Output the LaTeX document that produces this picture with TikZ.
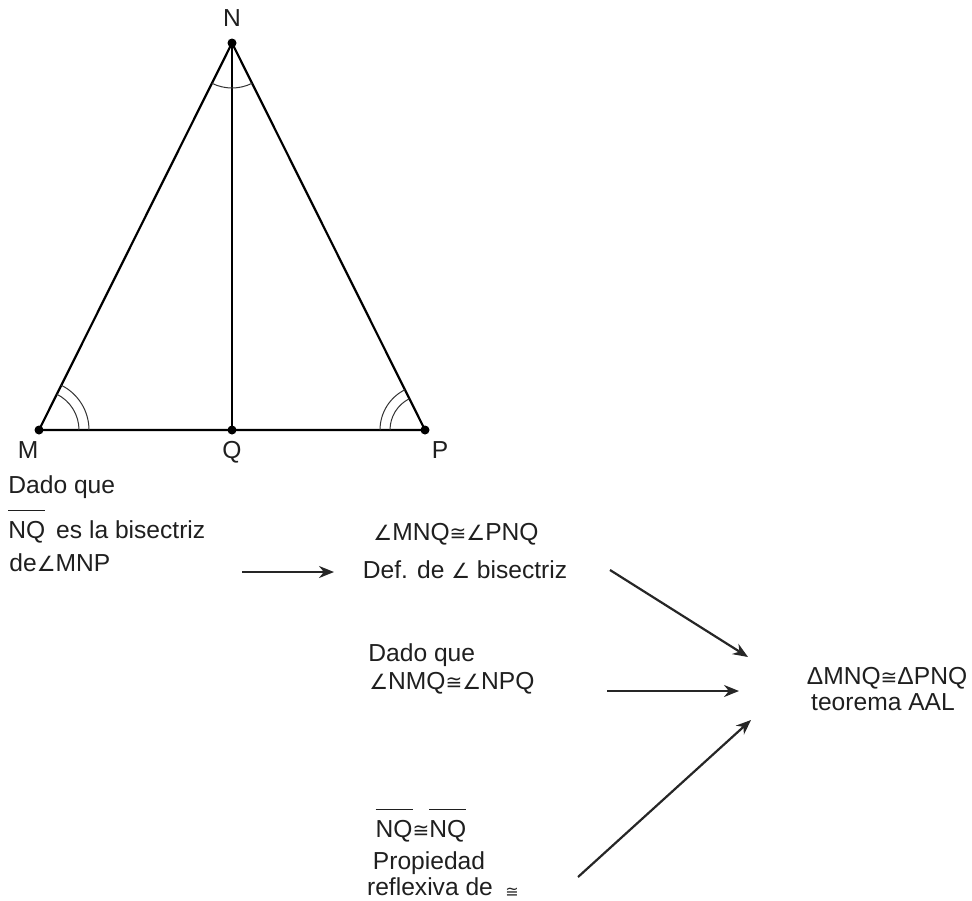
\documentclass[tikz,border=0pt]{standalone}
\usepackage{fontspec}
\setmainfont{Liberation Sans}
\newfontfamily\symfont{DejaVu Sans}
\usetikzlibrary{arrows.meta}

% angle and congruence signs
\newcommand{\ang}{{\symfont\fontsize{10.5}{12}\selectfont ∠}}
\newcommand{\congr}{{\symfont\fontsize{10}{12}\selectfont ≅}}
\newcommand{\seg}[1]{$\overline{\mbox{#1}\rule{0pt}{12.5pt}}$}

\tikzset{
  dot/.style={circle,fill=black,inner sep=0pt,minimum size=4.5pt},
  txt/.style={inner sep=0pt,text=black!88,font=\fontsize{12.3}{14}\selectfont},
  side/.style={line width=1.1pt},
  anglemark/.style={line width=0.5pt,black!80},
  implies/.style={line width=1.1pt,black!85,-{Stealth[length=7.5pt,width=6pt]}}
}

\begin{document}
\begin{tikzpicture}[x=0.5pt,y=0.5pt]
        \useasboundingbox (0,0) rectangle (972,-900);

        % triangle MNP with the bisector NQ
        \node[dot] (N) at (232,-43) {};
        \node[dot] (M) at (39,-430) {};
        \node[dot] (Q) at (232,-430) {};
        \node[dot] (P) at (425,-430) {};
        \draw[side] (M.center) -- (N.center) -- (P.center) -- cycle;
        \draw[side] (N.center) -- (Q.center);
        \node[txt] (lN) at (232,-18) {N};
        \node[txt] (lM) at (28,-450) {M};
        \node[txt] (lQ) at (232,-452) {Q};
        \node[txt] (lP) at (440,-450) {P};

        % angle marks
        \draw[anglemark] (N.center) ++(243.5:45) arc (243.5:296.5:45);
        \draw[anglemark] (M.center) ++(0:40) arc (0:63.5:40);
        \draw[anglemark] (M.center) ++(0:50) arc (0:63.5:50);
        \draw[anglemark] (P.center) ++(116.5:35) arc (116.5:180:35);
        \draw[anglemark] (P.center) ++(116.5:45) arc (116.5:180:45);

        % given statement
        \node[txt,anchor=west] (given1) at (8,-487) {Dado que};
        \node[txt,anchor=base west] (given2) at (8,-538) {\seg{NQ}\, es la bisectriz};
        \node[txt,anchor=west] (given3) at (9,-563) {de\ang MNP};

        % the three reasons
        \node[txt] (step1) at (456,-534) {\ang MNQ\congr\ang PNQ};
        \node[txt] (step1r) at (465,-570) {Def. de \ang\ bisectriz};
        \node[txt,anchor=west] (step2) at (368,-655) {Dado que};
        \node[txt,anchor=west] (step2r) at (369,-683) {\ang NMQ\congr\ang NPQ};
        \node[txt,anchor=base] (step3) at (421,-837) {\seg{NQ}\congr\seg{NQ}};
        \node[txt] (step3r) at (429,-863) {Propiedad};
        \node[txt] (step3s) at (430,-887) {reflexiva de};
        \node[inner sep=0pt,text=black!85] (step3c) at (512,-893) {\symfont\fontsize{8}{9}\selectfont ≅};

        % conclusion
        \node[txt] (concl) at (887,-678) {ΔMNQ\congr ΔPNQ};
        \node[txt] (conclr) at (883,-702) {teorema AAL};

        % arrow ends
        \coordinate (a1) at (242,-572);
        \coordinate (b1) at (334,-572);
        \coordinate (a2) at (610,-570);
        \coordinate (b2) at (748,-657);
        \coordinate (a3) at (607,-691);
        \coordinate (b3) at (739,-691);
        \coordinate (a4) at (578,-877);
        \coordinate (b4) at (751,-720);
        \draw[implies] (a1) -- (b1);
        \draw[implies] (a2) -- (b2);
        \draw[implies] (a3) -- (b3);
        \draw[implies] (a4) -- (b4);
\end{tikzpicture}
\end{document}
